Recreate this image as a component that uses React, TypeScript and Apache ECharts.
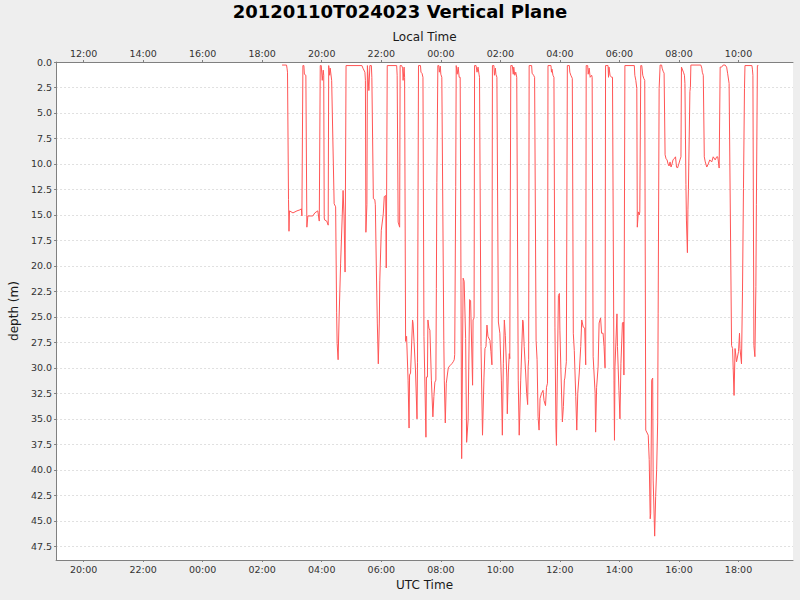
import React, { useEffect, useRef } from "react";
import * as echarts from "echarts";

const TITLE = "20120110T024023 Vertical Plane";
const X_NAME_BOTTOM = "UTC Time";
const X_NAME_TOP = "Local Time";
const Y_NAME = "depth (m)";

// hours relative to 2012-01-10 00:00 UTC
const X_MIN = -4.925;
const X_MAX = 19.83;
const UTC_TICKS = [-4, -2, 0, 2, 4, 6, 8, 10, 12, 14, 16, 18];
const LOCAL_OFFSET = -8;
const DEPTH_MAX = 48.84;
const DEPTH_TICKS = [0, 2.5, 5, 7.5, 10, 12.5, 15, 17.5, 20, 22.5, 25, 27.5, 30, 32.5, 35, 37.5, 40, 42.5, 45, 47.5];

// [UTC time on 2012-01-10, depth m]
const seg1: [string, number][] = [
  ["02:40", 0.3], ["02:49", 0.3], ["02:50", 0.6], ["02:51", 1.0], ["02:53", 13.5], ["02:54", 16.6], ["02:55", 14.6],
  ["03:02", 14.8], ["03:10", 14.6], ["03:16", 14.5], ["03:19", 14.4], ["03:20", 15.1], ["03:22", 0.35], ["03:24", 0.35],
  ["03:25", 1.2], ["03:28", 1.3],
  ["03:30", 16.2], ["03:32", 15.1], ["03:42", 15.1], ["03:46", 14.8], ["03:52", 14.6], ["03:55", 15.6], ["03:57", 0.35],
  ["03:59", 0.35], ["04:01", 1.8], ["04:03", 0.8], ["04:04", 1.3],
  ["04:05", 15.3], ["04:06", 15.5], ["04:10", 15.6], ["04:13", 16.0], ["04:14", 0.35],
  ["04:15", 0.35], ["04:16", 1.3], ["04:17", 0.6], ["04:20", 1.8],
  ["04:25", 13.9], ["04:28", 14.2], ["04:30", 24.6], ["04:31", 27.6], ["04:33", 29.2], ["04:35", 25.0], ["04:38", 19.8],
  ["04:43", 12.6], ["04:45", 15.2], ["04:47", 20.6], ["04:49", 0.35],
  ["05:21", 0.35], ["05:23", 0.6], ["05:27", 1.0], ["05:28", 1.8],
  ["05:29", 16.7], ["05:31", 14.0], ["05:32", 0.35], ["05:35", 2.8], ["05:37", 0.35], ["05:40", 0.35], ["05:41", 1.5],
  ["05:44", 13.4], ["05:47", 13.5], ["05:48", 14.0], ["05:50", 20.1], ["05:52", 25.6], ["05:54", 29.6], ["05:56", 25.6],
  ["05:57", 21.4], ["06:00", 16.5], ["06:04", 14.9], ["06:06", 13.2], ["06:09", 13.1], ["06:10", 20.2], ["06:12", 0.35],
];

const seg2: [string, number][] = [
  ["06:31", 0.35], ["06:32", 1.3], ["06:34", 15.7], ["06:37", 16.2], ["06:38", 0.35], ["06:41", 0.35], ["06:43", 0.6],
  ["06:44", 1.8], ["06:46", 0.5],
  ["06:47", 1.5], ["06:49", 27.4], ["06:51", 26.9], ["06:54", 31.2], ["06:56", 35.9], ["06:57", 30.7], ["06:59", 30.5],
  ["07:03", 25.3], ["07:04", 25.6], ["07:06", 27.4], ["07:09", 30.3], ["07:12", 35.0], ["07:13", 29.5], ["07:14", 29.5],
  ["07:15", 0.35],
  ["07:19", 0.35], ["07:20", 1.0], ["07:22", 1.1], ["07:24", 1.5],
  ["07:26", 26.9], ["07:30", 36.8], ["07:31", 30.9], ["07:33", 30.9], ["07:34", 25.3], ["07:36", 26.1], ["07:38", 26.3],
  ["07:41", 31.2], ["07:44", 34.8], ["07:46", 32.8], ["07:48", 31.4], ["07:50", 31.2], ["07:51", 22.2], ["07:52", 11.8],
  ["07:54", 0.35],
  ["07:56", 0.35], ["07:57", 1.0], ["07:59", 0.4], ["08:00", 1.2], ["08:02", 1.5],
  ["08:06", 27.3], ["08:07", 31.2], ["08:09", 35.4], ["08:11", 31.5], ["08:15", 30.0], ["08:18", 29.8], ["08:22", 29.6],
  ["08:25", 29.4], ["08:27", 29.2], ["08:28", 28.7], ["08:30", 12.2], ["08:31", 0.35],
  ["08:32", 0.35], ["08:33", 1.2], ["08:35", 0.5], ["08:37", 1.5], ["08:39", 1.5],
  ["08:42", 38.9], ["08:45", 21.2], ["08:47", 21.5], ["08:50", 27.1], ["08:52", 37.3], ["08:55", 35.1], ["08:58", 23.3],
  ["09:00", 23.4], ["09:04", 31.7], ["09:05", 25.3], ["09:07", 25.1], ["09:08", 0.35],
  ["09:11", 0.35], ["09:13", 1.0], ["09:15", 0.5], ["09:17", 1.2], ["09:18", 1.5],
  ["09:21", 27.9], ["09:24", 36.6], ["09:27", 30.9], ["09:29", 28.1], ["09:31", 27.9], ["09:33", 25.8], ["09:35", 26.9],
  ["09:39", 27.3], ["09:41", 28.4], ["09:43", 29.7], ["09:44", 0.35],
];

const seg3: [string, number][] = [
  ["09:47", 0.35], ["09:48", 1.3], ["09:50", 0.6], ["09:51", 1.2], ["09:53", 1.5],
  ["09:56", 25.5], ["09:59", 26.6], ["10:02", 31.2], ["10:04", 36.6], ["10:06", 29.6], ["10:08", 25.3], ["10:10", 26.8],
  ["10:13", 30.9], ["10:14", 34.5], ["10:16", 30.5], ["10:18", 28.6], ["10:19", 29.1], ["10:21", 0.35],
  ["10:24", 0.35], ["10:26", 1.2], ["10:27", 0.5], ["10:29", 1.3], ["10:31", 1.0], ["10:33", 1.5],
  ["10:36", 31.2], ["10:38", 36.6], ["10:41", 31.2], ["10:45", 25.3], ["10:46", 25.5], ["10:48", 27.9], ["10:51", 30.5],
  ["10:53", 32.5], ["10:55", 33.6], ["10:56", 29.9], ["10:57", 29.2], ["10:58", 0.35],
  ["11:03", 0.35], ["11:04", 1.1], ["11:07", 1.3], ["11:09", 1.5],
  ["11:12", 27.3], ["11:14", 29.2], ["11:16", 34.8], ["11:18", 36.1], ["11:20", 33.0], ["11:23", 32.5], ["11:26", 32.2],
  ["11:28", 33.2], ["11:31", 33.7], ["11:33", 31.9], ["11:35", 31.5], ["11:36", 0.35],
  ["11:42", 0.35], ["11:43", 1.0], ["11:44", 0.7], ["11:46", 1.3], ["11:48", 1.5],
  ["11:50", 26.0], ["11:52", 35.8], ["11:53", 37.6], ["11:55", 29.9], ["11:57", 22.9], ["11:59", 22.7], ["12:00", 26.3],
  ["12:02", 30.2], ["12:05", 35.3], ["12:07", 33.8], ["12:09", 31.2], ["12:10", 31.0], ["12:12", 29.9], ["12:13", 29.4],
  ["12:15", 0.35],
  ["12:19", 0.35], ["12:20", 1.0], ["12:22", 1.3], ["12:25", 1.6],
  ["12:27", 26.6], ["12:29", 28.3], ["12:32", 32.8], ["12:34", 36.1], ["12:36", 32.5], ["12:39", 30.5], ["12:42", 27.9],
  ["12:44", 25.3], ["12:47", 26.0], ["12:50", 26.1], ["12:52", 29.7], ["12:53", 0.35],
  ["12:56", 0.35], ["12:57", 1.2], ["12:59", 0.6], ["13:01", 1.5], ["13:04", 1.3], ["13:05", 1.5],
  ["13:07", 28.9], ["13:11", 32.5], ["13:12", 36.3], ["13:14", 31.9], ["13:17", 29.9], ["13:19", 25.6], ["13:22", 25.1],
  ["13:24", 26.6], ["13:27", 26.6], ["13:29", 27.9], ["13:31", 30.0], ["13:32", 0.35],
];

const seg4: [string, number][] = [
  ["13:37", 0.35], ["13:38", 1.5], ["13:39", 0.5], ["13:41", 1.3], ["13:44", 1.5], ["13:46", 1.5],
  ["13:49", 31.2], ["13:50", 37.1], ["13:51", 29.9], ["13:55", 24.7], ["13:56", 27.9], ["13:59", 32.2], ["14:01", 35.0],
  ["14:03", 29.6], ["14:06", 25.6], ["14:08", 25.5], ["14:09", 30.7], ["14:11", 0.35],
  ["14:30", 0.35], ["14:31", 1.3], ["14:33", 1.8], ["14:35", 2.6],
  ["14:36", 16.2], ["14:38", 14.7], ["14:40", 15.0], ["14:41", 14.7], ["14:43", 0.35],
  ["14:45", 0.35], ["14:47", 1.3], ["14:49", 1.6], ["14:51", 1.8],
  ["14:53", 36.1], ["14:58", 36.6], ["15:00", 39.0], ["15:02", 44.8], ["15:03", 44.3], ["15:05", 31.2], ["15:07", 31.0],
  ["15:08", 41.0], ["15:11", 46.5], ["15:13", 42.6], ["15:15", 40.0], ["15:17", 35.4], ["15:18", 24.7], ["15:20", 2.6],
  ["15:22", 0.3],
  ["15:25", 0.3], ["15:26", 0.6], ["15:28", 0.9], ["15:30", 1.1],
  ["15:32", 9.1], ["15:34", 9.5], ["15:36", 9.6], ["15:38", 10.0], ["15:40", 10.2], ["15:42", 9.8], ["15:44", 10.3],
  ["15:46", 10.0], ["15:48", 9.6], ["15:50", 9.5], ["15:53", 9.3], ["15:55", 10.3], ["15:57", 10.4], ["15:59", 10.1],
  ["16:02", 9.6], ["16:04", 9.3], ["16:05", 0.5],
  ["16:09", 1.0], ["16:11", 1.3], ["16:12", 2.1],
  ["16:14", 12.0], ["16:15", 15.5], ["16:17", 18.7], ["16:18", 14.5], ["16:19", 12.5], ["16:22", 2.9], ["16:23", 2.5],
  ["16:24", 0.3],
  ["16:44", 0.3], ["16:46", 0.6], ["16:47", 1.0], ["16:49", 1.3],
  ["16:51", 9.3], ["16:53", 9.8], ["16:56", 10.3], ["16:59", 10.0], ["17:02", 9.6], ["17:06", 9.8], ["17:09", 9.3],
  ["17:13", 9.6], ["17:16", 9.3], ["17:18", 9.3], ["17:19", 9.6], ["17:21", 10.4], ["17:23", 0.5],
  ["17:26", 0.5], ["17:29", 0.3], ["17:33", 0.3], ["17:36", 0.5], ["17:38", 1.1], ["17:41", 2.1],
  ["17:46", 27.8], ["17:48", 28.1], ["17:51", 32.7], ["17:53", 28.1], ["17:56", 29.4], ["18:00", 28.4], ["18:02", 26.6],
  ["18:03", 28.1], ["18:06", 29.6], ["18:08", 22.5], ["18:10", 12.4], ["18:12", 2.6], ["18:13", 0.35],
  ["18:27", 0.35], ["18:28", 0.7], ["18:29", 1.3],
  ["18:31", 27.8], ["18:33", 28.9], ["18:35", 22.0], ["18:36", 14.0], ["18:38", 0.35], ["18:40", 0.35],
];

const toHours = (t: string) => {
  const [h, m] = t.split(":").map(Number);
  return h + m / 60;
};

const hourLabel = (v: number) => {
  const h = ((Math.round(v) % 24) + 24) % 24;
  return String(h).padStart(2, "0") + ":00";
};

const FONT = "DejaVu Sans";
const AXIS_GRAY = "#808080";
const LABEL_COLOR = "#333333";

export default function App() {
  const ref = useRef<HTMLDivElement>(null);

  useEffect(() => {
    if (!ref.current) return;
    const chart = echarts.init(ref.current, undefined, { renderer: "svg" });
    const data = [...seg1, ...seg2, ...seg3, ...seg4].map(([t, d]) => [toHours(t), d]);

    const xCommon = (position: "top" | "bottom", name: string, fmt: (v: number) => string) => ({
      type: "value",
      position,
      min: X_MIN,
      max: X_MAX,
      name,
      nameLocation: "middle",
      nameGap: 19,
      nameTextStyle: { fontFamily: FONT, fontSize: 12, color: "#1a1a1a" },
      axisLine: { show: true, onZero: false, lineStyle: { color: AXIS_GRAY, width: 1 } },
      axisTick: { show: true, customValues: UTC_TICKS, length: 2, lineStyle: { color: AXIS_GRAY } },
      axisLabel: {
        show: true,
        customValues: UTC_TICKS,
        formatter: fmt,
        margin: 4,
        fontFamily: FONT,
        fontSize: 9.5,
        color: LABEL_COLOR,
      },
      splitLine: { show: false },
    });

    chart.setOption({
      animation: false,
      backgroundColor: "#eeeeee",
      title: {
        text: TITLE,
        left: "center",
        top: 2,
        padding: 0,
        textStyle: { fontFamily: FONT, fontWeight: "bold", fontSize: 18, color: "#000" },
      },
      grid: { left: 56, right: 7, top: 62, bottom: 40, show: true, backgroundColor: "#ffffff", borderWidth: 0 },
      xAxis: [
        xCommon("bottom", X_NAME_BOTTOM, (v: number) => hourLabel(v)),
        xCommon("top", X_NAME_TOP, (v: number) => hourLabel(v + LOCAL_OFFSET)),
      ],
      yAxis: {
        type: "value",
        inverse: true,
        min: 0,
        max: DEPTH_MAX,
        name: Y_NAME,
        nameLocation: "middle",
        nameGap: 30,
        nameRotate: 90,
        nameTextStyle: { fontFamily: FONT, fontSize: 12, color: "#1a1a1a" },
        axisLine: { show: true, onZero: false, lineStyle: { color: AXIS_GRAY, width: 1 } },
        axisTick: { show: true, customValues: DEPTH_TICKS, length: 2, lineStyle: { color: AXIS_GRAY } },
        axisLabel: {
          customValues: DEPTH_TICKS,
          formatter: (v: number) => v.toFixed(1),
          margin: 4,
          fontFamily: FONT,
          fontSize: 9.5,
          color: LABEL_COLOR,
        },
        splitLine: { show: true, lineStyle: { color: "#e0e0e0", width: 1, type: [2, 2] } },
      },
      series: [
        {
          type: "line",
          xAxisIndex: 0,
          yAxisIndex: 0,
          data,
          showSymbol: false,
          symbol: "none",
          silent: true,
          lineStyle: { color: "#ff5555", width: 1 },
          itemStyle: { color: "#ff5555" },
        },
      ],
    });
    return () => chart.dispose();
  }, []);

  return <div ref={ref} style={{ position: "fixed", left: 0, top: 0, width: 800, height: 600 }} />;
}
